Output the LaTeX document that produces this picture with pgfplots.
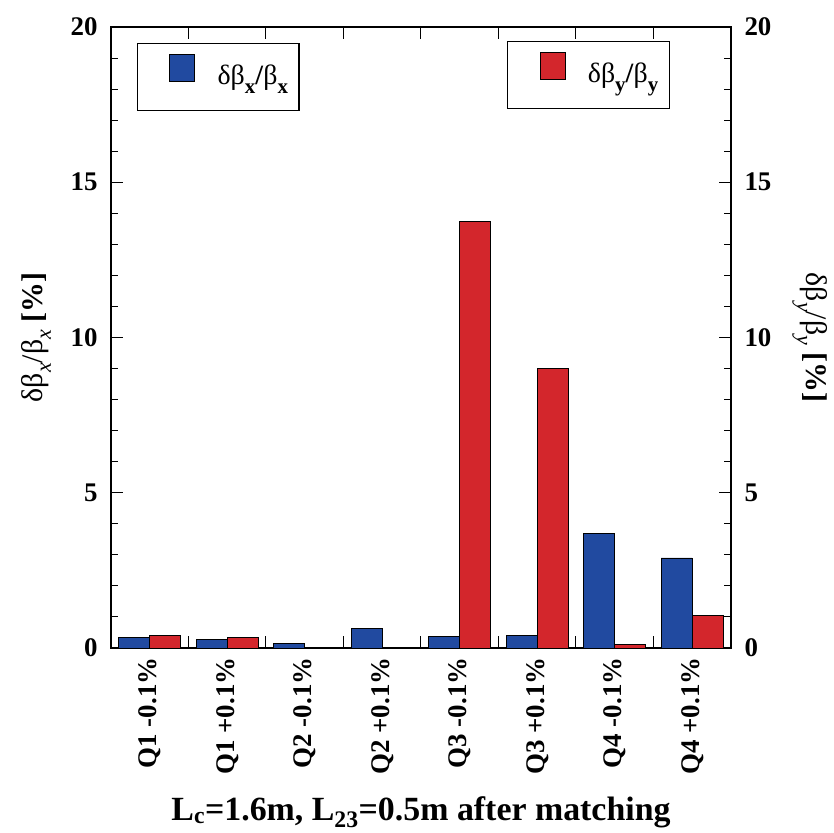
\documentclass[border=0pt]{standalone}
\usepackage{pgfplots}
\pgfplotsset{compat=1.18}
\usepackage{pgfplotstable}
\usepackage{fontspec}
\setmainfont{Liberation Serif}
\definecolor{barblue}{RGB}{33,74,160}
\definecolor{barred}{RGB}{211,38,44}

\pgfplotstableread{
x bx by
0 0.33 0.41
1 0.28 0.34
2 0.15 0.02
3 0.62 0.02
4 0.37 13.75
5 0.40 9.00
6 3.70 0.12
7 2.90 1.04
}\datatable

\newcommand{\sub}[1]{\raisebox{-0.3em}{\fontsize{22}{24}\selectfont #1}}
\newcommand{\lsub}[1]{\raisebox{-0.3em}{\fontsize{21}{24}\selectfont\bfseries #1}}
\pgfplotsset{
  common/.style={
    at={(111bp,185bp)}, anchor=south west,
    width=620bp, height=621bp, scale only axis,
    xmin=-0.5, xmax=7.5, ymin=0, ymax=20,
    /pgf/number format/assume math mode=true,
    tick label style={font=\fontsize{27}{30}\selectfont\bfseries},
    label style={font=\fontsize{30}{34}\selectfont},
    axis line style={line width=1.2bp},
    legend style={draw=black, line width=1.2bp, fill=white, inner sep=0pt,
      nodes={inner sep=0pt}, font=\fontsize{28}{30}\selectfont},
    legend image code/.code={
      \path[draw=none,fill=none] (-32bp,-15bp) rectangle (48bp,44bp);
      \path[#1,draw=black,line width=0.7bp] (0bp,6bp) rectangle (25bp,33bp);
    },
  },
}

\begin{document}
\begin{tikzpicture}
\useasboundingbox (0,0) rectangle (834bp,833bp);
\begin{axis}[common,
  ytick={0,5,...,20}, minor y tick num=4,
  xtick={0.5,1.5,...,6.5}, xticklabels={},
  extra x ticks={0,...,7},
  extra x tick labels={Q1 -0.1\%, Q1 +0.1\%, Q2 -0.1\%, Q2 +0.1\%, Q3 -0.1\%, Q3 +0.1\%, Q4 -0.1\%, Q4 +0.1\%},
  extra x tick style={major tick length=0pt, tick label style={yshift=-6bp, rotate=90, anchor=east}},
  major tick length=12bp, minor tick length=7bp,
  tick align=inside,
  tick style={line width=1bp, black},
  yticklabel pos=left,
  yticklabel style={xshift=-10bp},
  ylabel={δβ\sub{\textit{x}}/β\sub{\textit{x}} {\bfseries [\%]}},
  ylabel style={at={(axis description cs:-0.121,0.5)}, anchor=center},
  xlabel={\bfseries L\textsubscript{c}=1.6m, L\textsubscript{23}=0.5m after matching},
  xlabel style={at={(axis description cs:0.5,0)}, yshift=-172bp, anchor=base, font=\fontsize{34}{38}\selectfont},
  legend style={at={(axis description cs:0.0419,0.974)}, anchor=north west},
]
\addplot[ybar, bar width=0.4, bar shift=-0.2, fill=barblue, draw=black, line width=0.7bp]
  table[x=x, y=bx]{\datatable};
\addlegendentry{\raisebox{24bp}{δβ\lsub{x}\textbf{/}β\lsub{x}}\hspace*{11bp}}
\end{axis}
\begin{axis}[common,
  axis x line=none, axis y line*=right,
  ytick={0,5,...,20}, major tick length=0pt,
  yticklabel pos=right,
  yticklabel style={xshift=10bp},
  ylabel={δβ\sub{\textit{y}}/β\sub{\textit{y}} {\bfseries [\%]}},
  ylabel style={at={(axis description cs:1.127,0.5)}, anchor=center, rotate=180},
  legend style={at={(axis description cs:0.9016,0.9775)}, anchor=north east},
]
\addplot[ybar, bar width=0.4, bar shift=0.2, fill=barred, draw=black, line width=0.7bp]
  table[x=x, y=by]{\datatable};
\addlegendentry{\raisebox{24bp}{δβ\lsub{y}\textbf{/}β\lsub{y}}\hspace*{11bp}}
\end{axis}
\end{tikzpicture}
\end{document}
